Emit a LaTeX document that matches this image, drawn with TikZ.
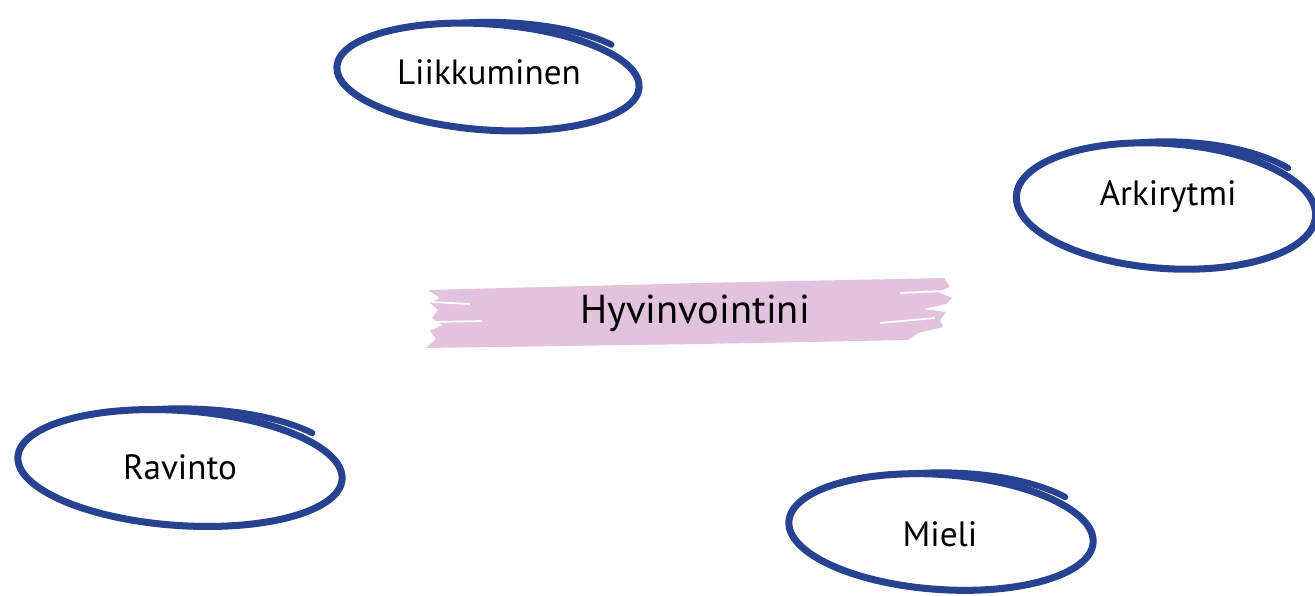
\documentclass[tikz,border=0pt]{standalone}
\usepackage{fontspec}
\setmainfont{PT Sans}
\usepackage{tikz}
\usetikzlibrary{shapes.geometric,positioning,calc}

\definecolor{penblue}{RGB}{40,66,146}
\definecolor{brushpink}{RGB}{226,195,222}

\begin{document}
\begin{tikzpicture}[
        x=0.02cm, y=-0.02cm,
        word/.style={font=\fontsize{20}{24}\selectfont, inner sep=2pt},
        loop/.style={draw=penblue, line width=4pt},
        tail/.style={draw=penblue, line width=3.6pt, line cap=round},
        title/.style={font=\fontsize{23}{28}\selectfont, inner sep=2pt}
    ]
        \useasboundingbox (0,0) rectangle (1315,595);

        % Brush behind the title
        \fill[brushpink] (428,290) -- (700,283) -- (944,278) -- (950,287) -- (938,292) -- (952,298)
            -- (946,304) -- (924,309) -- (946,312) -- (940,320) -- (943,327) -- (918,333)
            -- (908,340) -- (700,344) -- (426,348) -- (436,339) -- (430,331) -- (442,325)
            -- (432,318) -- (438,310) -- (430,303) -- (440,298) -- cycle;
        \draw[white, line width=1pt] (432,302) -- (470,304);
        \draw[white, line width=1pt] (436,322) -- (482,321);
        \draw[white, line width=1pt] (900,293) -- (944,291);
        \draw[white, line width=1pt] (880,323) -- (935,318);

        % Nodes
        \node[title] (hyvinvointi) at (695,313) {Hyvinvointini};
        \node[word] (liikkuminen) at (489,72) {Liikkuminen};
        \node[word] (arkirytmi) at (1168,197) {Arkirytmi};
        \node[word] (ravinto) at (180,467) {Ravinto};
        \node[word] (mieli) at (940,534) {Mieli};

        % Pen loops round the words
        \draw[loop, rotate around={-4:(488,77)}] (488,77) ellipse[x radius=3.03cm, y radius=1.06cm];
        \draw[loop, rotate around={-4:(1166,206)}] (1166,206) ellipse[x radius=3.0cm, y radius=1.25cm];
        \draw[loop, rotate around={-4:(180,468)}] (180,468) ellipse[x radius=3.25cm, y radius=1.15cm];
        \draw[loop, rotate around={-4:(941,532)}] (941,532) ellipse[x radius=3.05cm, y radius=1.15cm];

        % Pen strokes running past the loops
        \draw[tail] (488,77) ++(100:3.05cm and 1.1cm) arc[start angle=100, end angle=36, x radius=3.05cm, y radius=1.1cm];
        \draw[tail] (1166,206) ++(100:3.02cm and 1.29cm) arc[start angle=100, end angle=36, x radius=3.02cm, y radius=1.29cm];
        \draw[tail] (180,468) ++(100:3.27cm and 1.19cm) arc[start angle=100, end angle=36, x radius=3.27cm, y radius=1.19cm];
        \draw[tail] (941,532) ++(100:3.07cm and 1.19cm) arc[start angle=100, end angle=36, x radius=3.07cm, y radius=1.19cm];

    \end{tikzpicture}
\end{document}
